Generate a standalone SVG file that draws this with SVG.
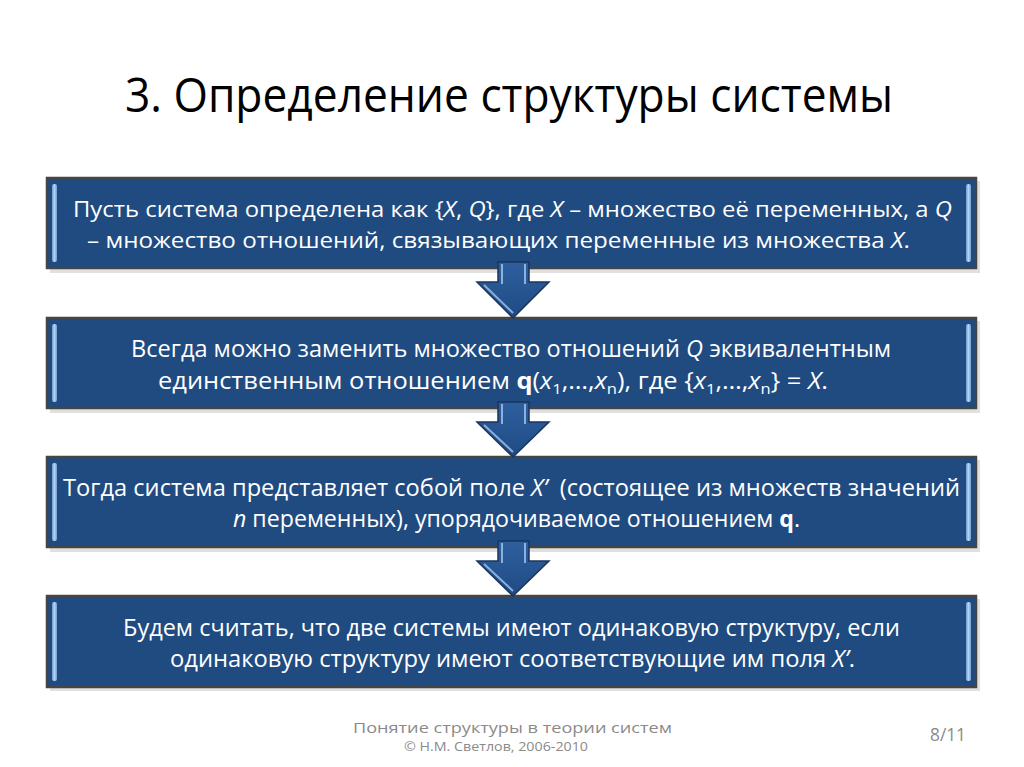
<svg xmlns="http://www.w3.org/2000/svg" width="1024" height="767" viewBox="0 0 1024 767">
<defs>
<style>
.box{fill:#1f4b81;stroke:#454545;stroke-width:2.5}
.shadow{fill:#000;opacity:0.12}
.hl{fill:url(#hlg)}
.bt{font-family:"Open Sans","Liberation Sans",sans-serif;fill:#ffffff}
.t1{font-size:21px}
.t2{font-size:23px}
.title{font-family:"Open Sans","Liberation Sans",sans-serif;font-size:48px;fill:#000}
.foot{font-family:"Open Sans","Liberation Sans",sans-serif;fill:#8a8a8a}
.arrow{fill:url(#ag);stroke:#1b355d;stroke-width:1.5;stroke-linejoin:miter}
.ahl{fill:none;stroke:#9cc0ea;stroke-width:2;opacity:0.85}
</style>
<linearGradient id="hlg" x1="0" y1="0" x2="1" y2="0">
<stop offset="0" stop-color="#6f9bd3"/>
<stop offset="0.5" stop-color="#b5d2f3"/>
<stop offset="1" stop-color="#6f9bd3"/>
</linearGradient>
<linearGradient id="ag" x1="0" y1="0" x2="0" y2="1">
<stop offset="0" stop-color="#2e5f9e"/>
<stop offset="1" stop-color="#1f4b84"/>
</linearGradient>
</defs>
<rect width="1024" height="767" fill="#ffffff"/>
<text class="title" x="125" y="112" textLength="768" lengthAdjust="spacingAndGlyphs">3. Определение структуры системы</text>

<g id="node1">
<rect class="shadow" x="50" y="181" width="930" height="92"/>
<rect class="box" x="47" y="178" width="929" height="90"/>
<rect class="hl" x="52" y="184" width="5" height="78" rx="2"/>
<rect class="hl" x="966" y="184" width="5" height="78" rx="2"/>
<text class="bt t1" x="73" y="217" textLength="879" lengthAdjust="spacingAndGlyphs">Пусть система определена как {<tspan font-style="italic">X</tspan>, <tspan font-style="italic">Q</tspan>}, где <tspan font-style="italic">X</tspan> – множество её переменных, а <tspan font-style="italic">Q</tspan></text>
<text class="bt t1" x="87" y="248" textLength="823" lengthAdjust="spacingAndGlyphs">– множество отношений, связывающих переменные из множества <tspan font-style="italic">X</tspan>.</text>
</g>

<g id="node2">
<rect class="shadow" x="50" y="321" width="930" height="92"/>
<rect class="box" x="47" y="318" width="929" height="90"/>
<rect class="hl" x="52" y="324" width="5" height="78" rx="2"/>
<rect class="hl" x="966" y="324" width="5" height="78" rx="2"/>
<text class="bt t2" x="131" y="357" textLength="760" lengthAdjust="spacingAndGlyphs">Всегда можно заменить множество отношений <tspan font-style="italic">Q</tspan> эквивалентным</text>
<text class="bt t2" x="158" y="389" textLength="670" lengthAdjust="spacingAndGlyphs">единственным отношением <tspan font-weight="bold">q</tspan>(<tspan font-style="italic">x</tspan><tspan font-size="15" dy="5">1</tspan><tspan dy="-5">,…,</tspan><tspan font-style="italic">x</tspan><tspan font-size="15" dy="5">n</tspan><tspan dy="-5">), где {</tspan><tspan font-style="italic">x</tspan><tspan font-size="15" dy="5">1</tspan><tspan dy="-5">,…,</tspan><tspan font-style="italic">x</tspan><tspan font-size="15" dy="5">n</tspan><tspan dy="-5">} = </tspan><tspan font-style="italic">X</tspan>.</text>
</g>

<g id="node3">
<rect class="shadow" x="50" y="460" width="930" height="92"/>
<rect class="box" x="47" y="457" width="929" height="90"/>
<rect class="hl" x="52" y="463" width="5" height="78" rx="2"/>
<rect class="hl" x="966" y="463" width="5" height="78" rx="2"/>
<text class="bt t2" x="63" y="496" textLength="897" lengthAdjust="spacingAndGlyphs">Тогда система представляет собой поле <tspan font-style="italic">X’</tspan>&#160; (состоящее из множеств значений</text>
<text class="bt t2" x="233" y="527" textLength="567" lengthAdjust="spacingAndGlyphs"><tspan font-style="italic">n</tspan> переменных), упорядочиваемое отношением <tspan font-weight="bold">q</tspan>.</text>
</g>

<g id="node4">
<rect class="shadow" x="50" y="599" width="930" height="92"/>
<rect class="box" x="47" y="596" width="929" height="91"/>
<rect class="hl" x="52" y="602" width="5" height="79" rx="2"/>
<rect class="hl" x="966" y="602" width="5" height="79" rx="2"/>
<text class="bt t2" x="123" y="636" textLength="777" lengthAdjust="spacingAndGlyphs">Будем считать, что две системы имеют одинаковую структуру, если</text>
<text class="bt t2" x="170" y="667" textLength="685" lengthAdjust="spacingAndGlyphs">одинаковую структуру имеют соответствующие им поля <tspan font-style="italic">X’</tspan>.</text>
</g>

<g id="connectors">
<g id="arrow1">
<path class="arrow" d="M498,262 H529 V282 H549 L513,318 L477,282 H498 Z"/>
<path class="ahl" d="M502,264 V284 M525,264 V284"/>
<path class="ahl" d="M484,285 L513,313" opacity="0.5"/>
</g>
<g id="arrow2">
<path class="arrow" d="M498,402 H529 V422 H549 L513,457 L477,422 H498 Z"/>
<path class="ahl" d="M502,404 V424 M525,404 V424"/>
<path class="ahl" d="M484,425 L513,452" opacity="0.5"/>
</g>
<g id="arrow3">
<path class="arrow" d="M498,541 H529 V561 H549 L513,596 L477,561 H498 Z"/>
<path class="ahl" d="M502,543 V563 M525,543 V563"/>
<path class="ahl" d="M484,564 L513,591" opacity="0.5"/>
</g>
</g>

<g id="footer">
<text class="foot" x="353" y="733" font-size="15" textLength="319" lengthAdjust="spacingAndGlyphs">Понятие структуры в теории систем</text>
<text class="foot" x="404" y="751" font-size="13" textLength="184" lengthAdjust="spacingAndGlyphs">© Н.М. Светлов, 2006-2010</text>
<text class="foot" x="930" y="741" font-size="19" textLength="36" lengthAdjust="spacingAndGlyphs">8/11</text>
</g>
</svg>
